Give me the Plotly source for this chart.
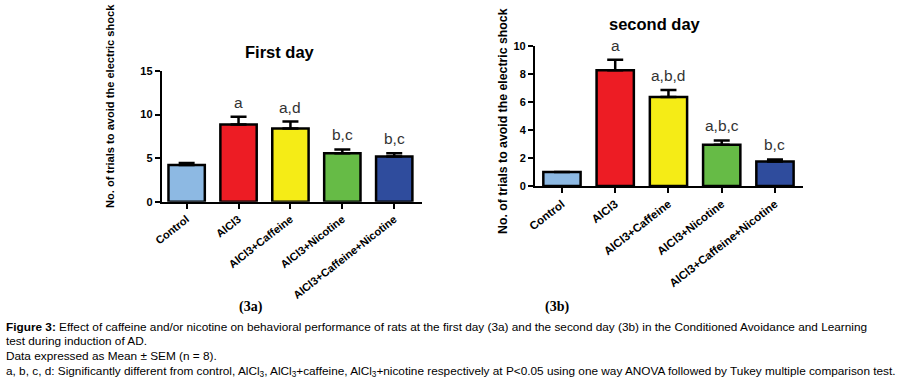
import plotly.graph_objects as go

categories = ["Control", "AlCl3", "AlCl3+Caffeine", "AlCl3+Nicotine", "AlCl3+Caffeine+Nicotine"]
bar_colors = ["#8DB9E3", "#ED1C24", "#F5EC16", "#66BB46", "#2F4C9D"]

day1_mean = [4.2, 8.85, 8.4, 5.55, 5.2]
day1_sem = [0.25, 0.9, 0.8, 0.45, 0.35]
day1_letters = ["", "a", "a,d", "b,c", "b,c"]

day2_mean = [1.0, 8.25, 6.35, 2.95, 1.75]
day2_sem = [0.0, 0.75, 0.5, 0.3, 0.15]
day2_letters = ["", "a", "a,b,d", "a,b,c", "b,c"]

FONT = "Liberation Sans, Arial, sans-serif"

fig = go.Figure()

for mean, sem, xa, ya in [(day1_mean, day1_sem, "x", "y"), (day2_mean, day2_sem, "x2", "y2")]:
    fig.add_trace(go.Bar(
        x=categories, y=mean, xaxis=xa, yaxis=ya, width=0.7,
        marker=dict(color=bar_colors, line=dict(color="black", width=2.5)),
        error_y=dict(type="data", symmetric=False, array=sem, arrayminus=[0] * len(sem),
                     color="black", thickness=2.5, width=8),
        showlegend=False, hoverinfo="skip",
    ))

def axis_common(size):
    return dict(showline=True, linecolor="black", linewidth=2, ticks="outside",
                tickcolor="black", tickwidth=2, ticklen=5, showgrid=False, zeroline=False,
                automargin=False,
                tickfont=dict(family=FONT, size=size, color="black", weight="bold"))

fig.update_layout(
    width=900, height=382, margin=dict(l=0, r=0, t=0, b=0, autoexpand=False),
    paper_bgcolor="white", plot_bgcolor="white", bargap=0.3,
    xaxis=dict(domain=[0.1797, 0.4686], anchor="y", type="category", range=[-0.48, 4.53],
               tickangle=-38, **axis_common(11)),
    yaxis=dict(domain=[0.472, 0.814], anchor="x", range=[0, 15], tickvals=[0, 5, 10, 15],
               **axis_common(11)),
    xaxis2=dict(domain=[0.5944, 0.8922], anchor="y2", type="category", range=[-0.507, 4.526],
                tickangle=-38, **axis_common(11.5)),
    yaxis2=dict(domain=[0.513, 0.880], anchor="x2", range=[0, 10], tickvals=[0, 2, 4, 6, 8, 10],
                **axis_common(11)),
)

ann = []
for cats, mean, sem, letters, xr, yr in [(categories, day1_mean, day1_sem, day1_letters, "x", "y"),
                                          (categories, day2_mean, day2_sem, day2_letters, "x2", "y2")]:
    for c, m, s, l in zip(cats, mean, sem, letters):
        if l:
            ann.append(dict(x=c, y=m + s, xref=xr, yref=yr, text=l, showarrow=False,
                            xanchor="center", yanchor="bottom", yshift=4,
                            font=dict(family=FONT, size=15.5, color="#333333")))

def paper_text(xp, yp, text, size, weight="bold", family=FONT, angle=0):
    return dict(x=xp / 900, y=1 - yp / 382, xref="paper", yref="paper", text=text,
                textangle=angle, showarrow=False, xanchor="center", yanchor="middle",
                font=dict(family=family, size=size, color="black", weight=weight))

# chart titles
ann.append(paper_text(280, 52, "First day", 16.5))
ann.append(paper_text(655, 24, "second day", 16.5))
# y titles
ytitle = "No. of trials to avoid the electric shock"
ann.append(paper_text(110, 106, ytitle, 11.1, angle=-90))
ann.append(paper_text(503, 121, ytitle, 12.3, angle=-90))
# panel labels
SERIF = "Liberation Serif, Times New Roman, serif"
ann.append(paper_text(251, 307, "(3a)", 14, family=SERIF))
ann.append(paper_text(557, 307, "(3b)", 14, family=SERIF))

caption_lines = [
    "<b>Figure 3:</b> Effect of caffeine and/or nicotine on behavioral performance of rats at the first day (3a) and the second day (3b) in the Conditioned Avoidance and Learning",
    "test during induction of AD.",
    "Data expressed as Mean ± SEM (n = 8).",
    "a, b, c, d: Significantly different from control, AlCl<sub>3</sub>, AlCl<sub>3</sub>+caffeine, AlCl<sub>3</sub>+nicotine respectively at P&lt;0.05 using one way ANOVA followed by Tukey multiple comparison test.",
]
for line, yp in zip(caption_lines, [327, 341, 356, 371]):
    ann.append(dict(x=4 / 900, y=1 - yp / 382, xref="paper", yref="paper", text=line,
                    xanchor="left", yanchor="middle", showarrow=False, align="left",
                    font=dict(family=FONT, size=11.8, color="black")))

fig.update_layout(annotations=ann)
fig.write_html("out.html", config={"displayModeBar": False, "staticPlot": True},
               post_script="document.body.style.margin='0px';document.body.style.overflow='hidden';")
